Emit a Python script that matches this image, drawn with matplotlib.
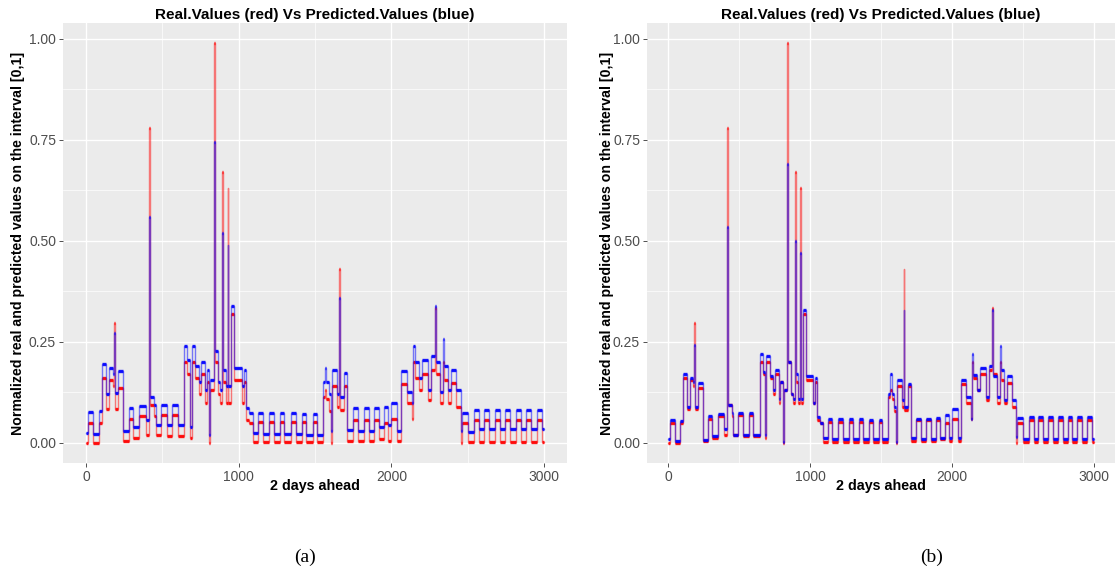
import matplotlib
matplotlib.use('Agg')
import matplotlib.pyplot as plt
from matplotlib.ticker import MultipleLocator, FormatStrFormatter

# step breakpoints (time index) and the level held from each one until the next,
# read off the picture: real values (red, same in both panels),
# predictions of model (a) and model (b) (blue)
steps_x = [0, 15, 48, 85, 103, 131, 153, 175, 184, 188, 212, 245, 282, 308, 349,
           393, 413, 418, 448, 459, 491, 530, 566, 600, 645, 665, 683, 692, 715,
           740, 755, 778, 790, 806, 813, 838, 843, 865, 880, 893, 898, 915, 928,
           933, 948, 968, 1020, 1032, 1050, 1070, 1092, 1129, 1157, 1200, 1234,
           1271, 1299, 1343, 1376, 1413, 1442, 1485, 1510, 1550, 1565, 1575, 1590,
           1606, 1613, 1645, 1659, 1664, 1688, 1709, 1750, 1780, 1820, 1853, 1888,
           1918, 1950, 1980, 1998, 2040, 2062, 2100, 2135, 2145, 2152, 2180, 2198,
           2240, 2262, 2285, 2290, 2320, 2338, 2343, 2368, 2390, 2425, 2455, 2462,
           2500, 2543, 2576, 2609, 2642, 2681, 2712, 2747, 2780, 2817, 2850, 2882,
           2915, 2954, 2985, 3000]

real_vals = [0.0, 0.05, 0.0, 0.05, 0.16, 0.085, 0.155, 0.14, 0.298, 0.085, 0.136,
             0.004, 0.06, 0.012, 0.066, 0.02, 0.78, 0.095, 0.066, 0.02, 0.07, 0.018,
             0.07, 0.018, 0.2, 0.17, 0.012, 0.2, 0.16, 0.12, 0.17, 0.1, 0.15, 0.0,
             0.13, 0.99, 0.2, 0.12, 0.1, 0.67, 0.15, 0.1, 0.63, 0.1, 0.32, 0.155,
             0.1, 0.15, 0.057, 0.05, 0.003, 0.053, 0.002, 0.053, 0.002, 0.053,
             0.002, 0.053, 0.002, 0.053, 0.002, 0.053, 0.002, 0.115, 0.13, 0.11,
             0.08, 0.0, 0.14, 0.09, 0.43, 0.082, 0.14, 0.006, 0.057, 0.004, 0.057,
             0.004, 0.057, 0.01, 0.05, 0.005, 0.06, 0.006, 0.145, 0.1, 0.06, 0.2,
             0.16, 0.13, 0.17, 0.107, 0.18, 0.335, 0.17, 0.1, 0.2, 0.157, 0.1,
             0.148, 0.09, 0.0, 0.05, 0.003, 0.057, 0.003, 0.057, 0.003, 0.057,
             0.003, 0.057, 0.003, 0.057, 0.003, 0.057, 0.003, 0.057, 0.003, 0.003]

pred_a = [0.025, 0.077, 0.022, 0.08, 0.195, 0.12, 0.185, 0.17, 0.273, 0.124, 0.177,
          0.03, 0.086, 0.04, 0.092, 0.057, 0.56, 0.115, 0.095, 0.045, 0.095, 0.045,
          0.095, 0.045, 0.24, 0.205, 0.04, 0.24, 0.19, 0.15, 0.2, 0.13, 0.18, 0.02,
          0.157, 0.745, 0.227, 0.15, 0.13, 0.52, 0.18, 0.14, 0.49, 0.14, 0.34,
          0.185, 0.14, 0.18, 0.086, 0.074, 0.024, 0.074, 0.022, 0.074, 0.022,
          0.074, 0.022, 0.074, 0.022, 0.072, 0.02, 0.072, 0.02, 0.15, 0.185, 0.15,
          0.12, 0.03, 0.18, 0.12, 0.36, 0.115, 0.173, 0.032, 0.086, 0.03, 0.086,
          0.03, 0.086, 0.04, 0.09, 0.045, 0.1, 0.03, 0.177, 0.125, 0.1, 0.24, 0.2,
          0.16, 0.205, 0.13, 0.215, 0.34, 0.2, 0.125, 0.258, 0.19, 0.13, 0.18,
          0.132, 0.03, 0.074, 0.028, 0.082, 0.034, 0.082, 0.034, 0.082, 0.034,
          0.082, 0.034, 0.082, 0.034, 0.082, 0.034, 0.082, 0.034, 0.034]

pred_b = [0.01, 0.058, 0.004, 0.055, 0.17, 0.09, 0.16, 0.15, 0.243, 0.09, 0.148,
          0.007, 0.068, 0.018, 0.072, 0.035, 0.535, 0.095, 0.075, 0.02, 0.074, 0.02,
          0.074, 0.02, 0.22, 0.175, 0.02, 0.215, 0.165, 0.13, 0.18, 0.11, 0.15,
          0.003, 0.13, 0.69, 0.2, 0.12, 0.11, 0.5, 0.17, 0.11, 0.47, 0.11, 0.33,
          0.165, 0.1, 0.16, 0.065, 0.05, 0.012, 0.06, 0.01, 0.06, 0.01, 0.06, 0.01,
          0.06, 0.01, 0.058, 0.01, 0.058, 0.01, 0.12, 0.17, 0.12, 0.09, 0.003,
          0.155, 0.106, 0.33, 0.09, 0.145, 0.012, 0.06, 0.01, 0.06, 0.01, 0.062,
          0.012, 0.07, 0.012, 0.085, 0.012, 0.157, 0.115, 0.06, 0.219, 0.168, 0.13,
          0.185, 0.115, 0.19, 0.33, 0.165, 0.115, 0.24, 0.18, 0.107, 0.165, 0.107,
          0.016, 0.061, 0.01, 0.065, 0.01, 0.065, 0.01, 0.065, 0.01, 0.065, 0.01,
          0.065, 0.01, 0.065, 0.01, 0.065, 0.01, 0.01]

title = 'Real.Values (red) Vs Predicted.Values (blue)'
ylab = 'Normalized real and predicted values on the interval [0,1]'
xlab = '2 days ahead'

plt.rcParams['font.family'] = ['Liberation Sans', 'DejaVu Sans']

fig = plt.figure(figsize=(11.15, 5.73), dpi=100)
ax_a = fig.add_axes([0.0565, 0.192, 0.452, 0.768])
ax_b = fig.add_axes([0.5803, 0.192, 0.4197, 0.768])


def draw_series(ax, vals, col, z):
    # thin pale line for the jumps, thicker strokes for the held levels
    ax.plot(steps_x, vals, drawstyle='steps-post', color=col, lw=1.0,
            alpha=0.5, zorder=z)
    ax.hlines(vals[:-1], steps_x[:-1], steps_x[1:], color=col, lw=2.4,
              alpha=0.9, zorder=z + 0.5)


def draw_panel(ax, pred, ylab_x):
    ax.set_facecolor('#EBEBEB')
    draw_series(ax, real_vals, 'red', 3)
    draw_series(ax, pred, 'blue', 4)

    ax.set_xlim(-150, 3150)
    ax.set_ylim(-0.0495, 1.0395)
    ax.xaxis.set_major_locator(MultipleLocator(1000))
    ax.xaxis.set_minor_locator(MultipleLocator(500))
    ax.yaxis.set_major_locator(MultipleLocator(0.25))
    ax.yaxis.set_minor_locator(MultipleLocator(0.125))
    ax.yaxis.set_major_formatter(FormatStrFormatter('%.2f'))

    ax.grid(which='major', color='white', lw=1.0, zorder=0)
    ax.grid(which='minor', color='white', lw=0.5, zorder=0)
    ax.set_axisbelow(True)
    for s in ax.spines.values():
        s.set_visible(False)
    ax.tick_params(which='major', length=3, width=0.6, color='#333333',
                   labelcolor='#4D4D4D', labelsize=10, pad=2)
    ax.tick_params(which='minor', length=0)

    ax.set_title(title, fontsize=11, fontweight='bold', pad=3)
    ax.set_ylabel(ylab, fontsize=10.2, fontweight='bold')
    ax.yaxis.set_label_coords(ylab_x, 0.5)
    ax.yaxis.label.set_va('center')
    ax.set_xlabel(xlab, fontsize=10.3, fontweight='bold')
    ax.xaxis.set_label_coords(0.5, -0.052)
    ax.xaxis.label.set_va('center')


draw_panel(ax_a, pred_a, -0.089)
draw_panel(ax_b, pred_b, -0.086)

fig.text(305 / 1115, 1 - 557 / 573, '(a)', family='Liberation Serif',
         fontsize=14, ha='center', va='center')
fig.text(932 / 1115, 1 - 557 / 573, '(b)', family='Liberation Serif',
         fontsize=14, ha='center', va='center')

fig.savefig('out.png', dpi=100, facecolor='white')
